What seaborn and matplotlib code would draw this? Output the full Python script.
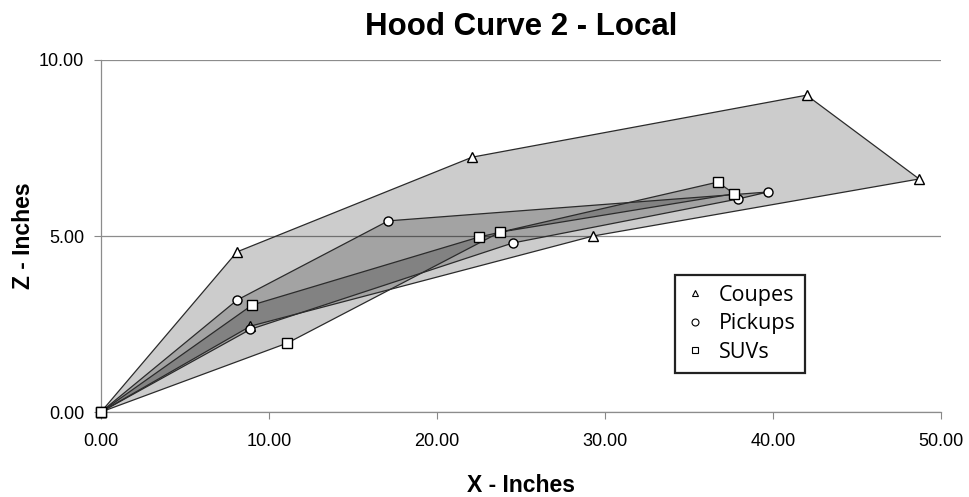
import numpy as np
import pandas as pd
import matplotlib
matplotlib.use("Agg")
import matplotlib.pyplot as plt
import seaborn as sns
from matplotlib.lines import Line2D

# outline of each vehicle group, in drawing order (closed back to origin)
coupes_x = [0.0, 8.1, 22.1, 42.0, 48.7, 29.3, 8.9, 0.0]
coupes_z = [0.0, 4.55, 7.24, 9.0, 6.62, 5.0, 2.44, 0.0]

pickups_x = [0.0, 8.1, 17.1, 39.7, 37.9, 24.5, 8.9, 0.0]
pickups_z = [0.0, 3.18, 5.43, 6.25, 6.05, 4.8, 2.35, 0.0]

suvs_x = [0.0, 9.0, 22.5, 36.7, 37.7, 23.75, 11.1, 0.0]
suvs_z = [0.0, 3.04, 4.97, 6.53, 6.2, 5.11, 1.96, 0.0]

series_names = ["Coupes", "Pickups", "SUVs"]
x_ticks = [0, 10, 20, 30, 40, 50]
z_ticks = [0, 5, 10]

frames = []
for name, xs, zs in [("Coupes", coupes_x, coupes_z),
                     ("Pickups", pickups_x, pickups_z),
                     ("SUVs", suvs_x, suvs_z)]:
    frames.append(pd.DataFrame({"series": name, "x": xs, "z": zs}))
df = pd.concat(frames, ignore_index=True)

sns.set_style("white")
plt.rcParams["font.family"] = ["Liberation Sans", "DejaVu Sans"]
plt.rcParams["text.color"] = "black"
plt.rcParams["xtick.color"] = "black"
plt.rcParams["ytick.color"] = "black"
plt.rcParams["axes.labelcolor"] = "black"

fig = plt.figure(figsize=(9.69, 4.97), dpi=100)
ax = fig.add_axes([0.1042, 0.171, 0.8669, 0.7083])

# translucent fills, overlaps get darker
for name in series_names:
    d = df[df.series == name]
    ax.fill(d.x, d.z, color="black", alpha=0.2, lw=0, zorder=1)

markers = {"Coupes": "^", "Pickups": "o", "SUVs": "s"}
sns.lineplot(data=df, x="x", y="z", hue="series", style="series",
             units="series", estimator=None, sort=False,
             palette={n: "#2b2b2b" for n in series_names},
             markers=markers, dashes=False, lw=0.9,
             markersize=6.5, markerfacecolor="white",
             markeredgecolor="black", markeredgewidth=1.0,
             legend=False, ax=ax, zorder=3, clip_on=False)

ax.set_xlim(0, 50)
ax.set_ylim(0, 10)
ax.set_xticks(x_ticks)
ax.set_yticks(z_ticks)
ax.set_xticklabels([f"{v:.2f}" for v in x_ticks], fontsize=13)
ax.set_yticklabels([f"{v:.2f}" for v in z_ticks], fontsize=13)
ax.tick_params(axis="both", direction="out", length=5, width=0.8,
               color="#888888", bottom=True, left=True)
ax.tick_params(axis="x", pad=10)
ax.tick_params(axis="y", pad=7)
ax.yaxis.grid(True, color="#8c8c8c", lw=0.9)
ax.set_axisbelow(True)
for side in ["top", "right"]:
    ax.spines[side].set_visible(False)
for side in ["left", "bottom"]:
    ax.spines[side].set_color("#8c8c8c")
    ax.spines[side].set_linewidth(0.9)

ax.set_xlabel("X - Inches", fontsize=16.5, fontweight="bold")
ax.set_ylabel("Z - Inches", fontsize=16.5, fontweight="bold")
ax.xaxis.set_label_coords(0.5, -0.175)
ax.yaxis.set_label_coords(-0.078, 0.5)
ax.set_title("Hood Curve 2 - Local", fontsize=22.5, fontweight="bold", pad=18)

handles = [Line2D([], [], ls="none", marker=markers[n], markersize=5,
                  markerfacecolor="white", markeredgecolor="black",
                  markeredgewidth=0.8) for n in series_names]
leg = ax.legend(handles, series_names, loc="upper left",
                bbox_to_anchor=(0.683, 0.389), frameon=True, fancybox=False,
                prop={"family": "Open Sans", "size": 15.5},
                handlelength=1.0, handletextpad=0.6, labelspacing=0.35,
                borderpad=0.45, borderaxespad=0)
leg.get_frame().set_edgecolor("#222222")
leg.get_frame().set_linewidth(1.6)
leg.get_frame().set_alpha(1)

fig.savefig("out.png", dpi=100)
